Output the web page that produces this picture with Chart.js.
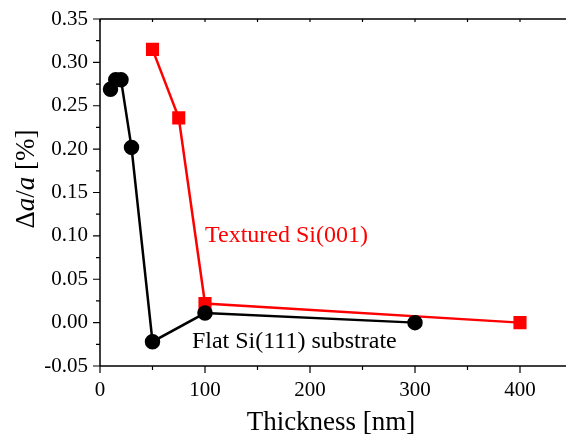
<!DOCTYPE html>
<html lang="en">
<head>
<meta charset="UTF-8">
<title>Lattice strain vs thickness</title>
<style>
  html, body { margin: 0; padding: 0; overflow: hidden; background: #fff; }
</style>
</head>
<body>
<script src="https://cdn.jsdelivr.net/npm/chart.js@4/dist/chart.umd.min.js"></script>
<canvas id="strain-chart" width="572" height="442"></canvas>
<script>
    // flat Si(111) substrate (black circles)
    var flatThickness = [10, 15, 20, 30, 50, 100, 300];
    var flatStrain = [0.269, 0.280, 0.280, 0.202, -0.022, 0.011, 0.000];
    // textured Si(001) (red squares)
    var texThickness = [50, 75, 100, 400];
    var texStrain = [0.315, 0.236, 0.022, 0.000];

    var xMajor = [0, 100, 200, 300, 400];
    var xMinor = [50, 150, 250, 350];
    var yMajor = [-0.05, 0.00, 0.05, 0.10, 0.15, 0.20, 0.25, 0.30, 0.35];
    var yMinor = [-0.025, 0.025, 0.075, 0.125, 0.175, 0.225, 0.275, 0.325];

    var serif = "'Liberation Serif', 'DejaVu Serif', serif";

    function pts(xs, ys) {
        var out = [];
        for (var i = 0; i < xs.length; i++) out.push({x: xs[i], y: ys[i]});
        return out;
    }

    var framePlugin = {
        id: 'frame',
        afterDraw: function (chart) {
            var ctx = chart.ctx, a = chart.chartArea;
            var xs = chart.scales.x, ys = chart.scales.y;
            ctx.save();
            ctx.strokeStyle = '#000';
            ctx.lineWidth = 1.5;
            ctx.beginPath();
            ctx.moveTo(a.left, a.top); ctx.lineTo(a.left, a.bottom);
            ctx.moveTo(a.left, a.bottom); ctx.lineTo(a.right + 8, a.bottom);
            ctx.moveTo(a.left, a.top); ctx.lineTo(a.right + 8, a.top);
            ctx.stroke();
            ctx.lineWidth = 1.2;
            ctx.beginPath();
            xMajor.forEach(function (v) {
                var p = xs.getPixelForValue(v);
                ctx.moveTo(p, a.bottom); ctx.lineTo(p, a.bottom + 7);
                ctx.moveTo(p, a.top); ctx.lineTo(p, a.top + 3);
            });
            xMinor.forEach(function (v) {
                var p = xs.getPixelForValue(v);
                ctx.moveTo(p, a.bottom); ctx.lineTo(p, a.bottom + 4);
                ctx.moveTo(p, a.top); ctx.lineTo(p, a.top + 3);
            });
            yMajor.forEach(function (v) {
                var p = ys.getPixelForValue(v);
                ctx.moveTo(a.left, p); ctx.lineTo(a.left - 7, p);
            });
            yMinor.forEach(function (v) {
                var p = ys.getPixelForValue(v);
                ctx.moveTo(a.left, p); ctx.lineTo(a.left - 4, p);
            });
            ctx.stroke();

            // in-plot labels
            ctx.font = '24px ' + serif;
            ctx.textBaseline = 'middle';
            ctx.textAlign = 'left';
            ctx.fillStyle = '#ff0000';
            ctx.fillText('Textured Si(001)', xs.getPixelForValue(100), ys.getPixelForValue(0.100));
            ctx.fillStyle = '#000';
            ctx.fillText('Flat Si(111) substrate', xs.getPixelForValue(87.5), ys.getPixelForValue(-0.022));

            // y axis title with italic a
            var parts = [['\u0394', ''], ['a', 'italic '], ['/', ''], ['a', 'italic '], [' [%]', '']];
            ctx.translate(27, 179);
            ctx.rotate(-Math.PI / 2);
            var w = 0;
            parts.forEach(function (p) { ctx.font = p[1] + '27px ' + serif; w += ctx.measureText(p[0]).width; });
            var cx = -w / 2;
            parts.forEach(function (p) {
                ctx.font = p[1] + '27px ' + serif;
                ctx.fillText(p[0], cx, 0);
                cx += ctx.measureText(p[0]).width;
            });
            ctx.restore();
        }
    };

    new Chart(document.getElementById('strain-chart'), {
        type: 'scatter',
        data: {
            datasets: [
                {
                    label: 'Flat Si(111) substrate',
                    data: pts(flatThickness, flatStrain),
                    showLine: true,
                    borderColor: '#000',
                    backgroundColor: '#000',
                    borderWidth: 2.5,
                    pointStyle: 'circle',
                    pointRadius: 6.5,
                    pointHoverRadius: 6.5
                },
                {
                    label: 'Textured Si(001)',
                    data: pts(texThickness, texStrain),
                    showLine: true,
                    borderColor: '#ff0000',
                    backgroundColor: '#ff0000',
                    borderWidth: 2.5,
                    pointStyle: 'rect',
                    pointRadius: 7.5,
                    pointHoverRadius: 7.5
                }
            ]
        },
        options: {
            responsive: false,
            animation: false,
            layout: {padding: {top: 19, right: 0, left: 0, bottom: 0}},
            plugins: {legend: {display: false}, tooltip: {enabled: false}},
            scales: {
                x: {
                    type: 'linear',
                    min: 0,
                    max: 440,
                    grid: {display: false, drawTicks: false},
                    border: {display: false},
                    afterBuildTicks: function (s) { s.ticks = xMajor.map(function (v) { return {value: v}; }); },
                    ticks: {
                        autoSkip: false,
                        maxRotation: 0,
                        padding: 12,
                        color: '#000',
                        font: {family: serif, size: 21}
                    },
                    title: {
                        display: true,
                        text: 'Thickness [nm]',
                        color: '#000',
                        font: {family: serif, size: 27},
                        padding: {top: 0, bottom: 3}
                    },
                    afterFit: function (s) { s.height = 76; s.paddingLeft = 0; s.paddingRight = 0; }
                },
                y: {
                    min: -0.05,
                    max: 0.35,
                    grid: {display: false, drawTicks: false},
                    border: {display: false},
                    afterBuildTicks: function (s) { s.ticks = yMajor.map(function (v) { return {value: v}; }); },
                    ticks: {
                        autoSkip: false,
                        padding: 12,
                        color: '#000',
                        font: {family: serif, size: 21},
                        callback: function (v) { return (Math.abs(v) < 1e-9 ? 0 : v).toFixed(2); }
                    },
                    afterFit: function (s) { s.width = 100; s.paddingTop = 0; s.paddingBottom = 0; }
                }
            }
        },
        plugins: [framePlugin]
    });
</script>
</body>
</html>
